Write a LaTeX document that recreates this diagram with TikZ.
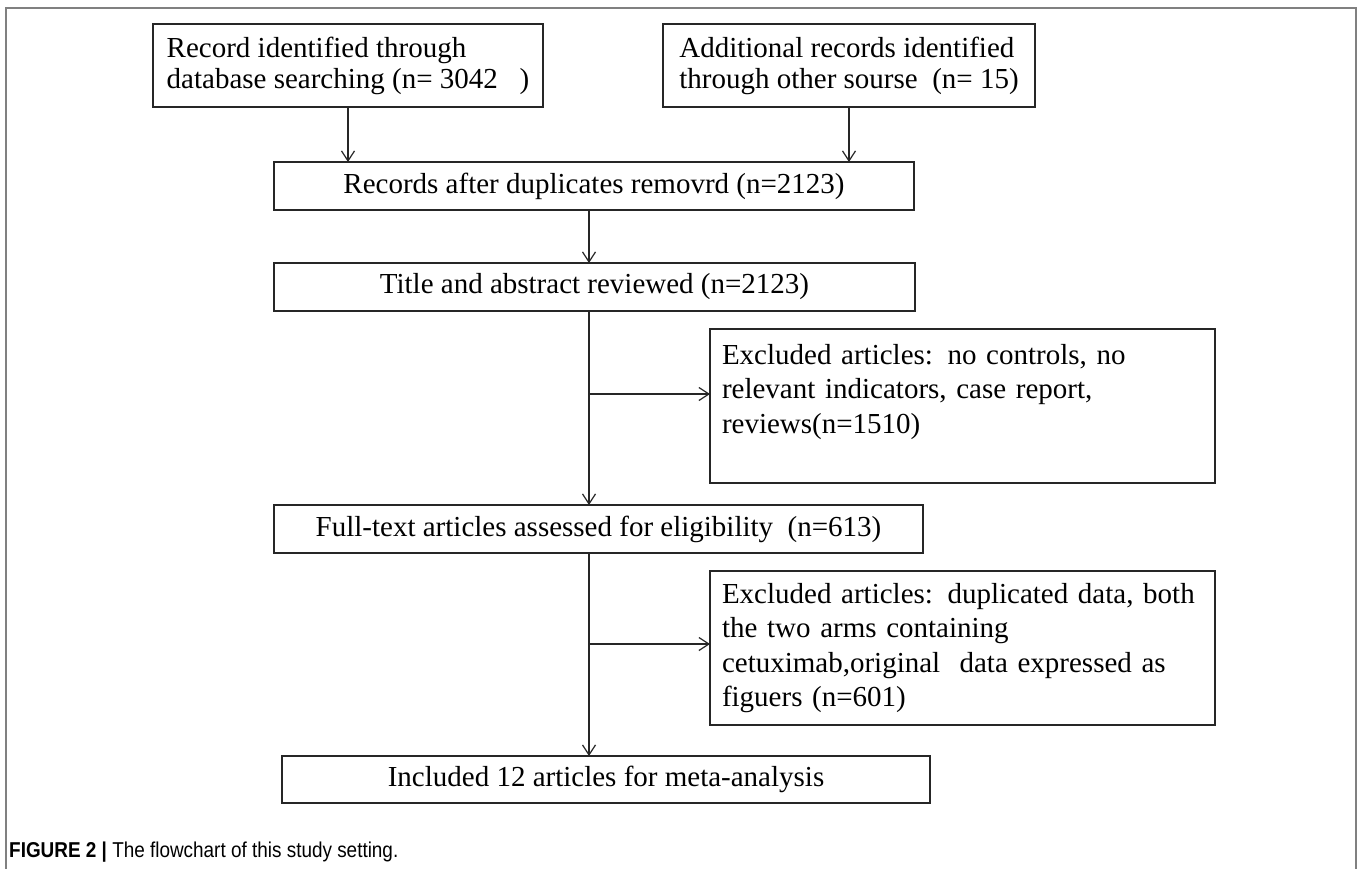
\documentclass[tikz,border=0pt]{standalone}
\usepackage{fontspec}
\setmainfont{Liberation Serif}
\setsansfont{Liberation Sans}
\newfontfamily\capfont[FakeStretch=0.88]{Liberation Sans}
\usetikzlibrary{arrows.meta}
\tikzset{
  box/.style={draw=black!85, line width=1.5pt, inner sep=0pt, outer sep=0pt, anchor=north west, font=\fontsize{29}{31}\selectfont},
  cbox/.style={box, align=center},
  lbox/.style={box, align=left},
  xbox/.style={box, align=left, text width=481pt, inner xsep=12pt, font=\fontsize{29}{34.5}\selectfont},
  arr/.style={line width=1.2pt, draw=black!85, -{Straight Barb[length=10pt,width=13pt,line width=1.2pt]}},
  frame/.style={draw=black!50, line width=2.2pt},
  captext/.style={anchor=base west, inner sep=0pt, font=\capfont\fontsize{21.5}{24}\selectfont}
}
\begin{document}
\begin{tikzpicture}[x=1pt,y=-1pt]
\useasboundingbox (0,0) rectangle (1358,868);
\fill[white] (0,0) rectangle (1358,868);
\draw[frame] (6,880) -- (6,8) -- (1356,8) -- (1356,880);

\node[lbox, minimum width=390pt, minimum height=83pt] (a) at (153,24)
  {Record identified through\\database searching\ (n= 3042\ \ \ )};
\node[lbox, minimum width=372pt, minimum height=83pt] (b) at (663,24)
  {Additional records identified\\through other sourse\ \ (n= 15)};
\node[cbox, minimum width=640pt, minimum height=48pt] (c) at (274,162)
  {Records after duplicates removrd (n=2123)};
\node[cbox, minimum width=641pt, minimum height=48pt] (d) at (274,263)
  {Title and abstract reviewed (n=2123)};
\node[xbox, minimum width=505pt, minimum height=154pt] (x1) at (710,329)
  {Excluded articles: no controls, no\\relevant indicators, case report,\\reviews(n=1510)\\\mbox{}};
\node[cbox, minimum width=649pt, minimum height=48pt] (e) at (274,505)
  {Full-text articles assessed for eligibility\ \ (n=613)};
\node[xbox, minimum width=505pt, minimum height=154pt] (x2) at (710,571)
  {Excluded articles: duplicated data, both\\the two arms containing\\cetuximab,original\ \ data expressed as\\figuers (n=601)};
\node[cbox, minimum width=648pt, minimum height=47pt] (f) at (282,756)
  {Included 12 articles for meta-analysis};

\coordinate (spine) at (589,0);
\coordinate (br1) at (589,394);
\coordinate (br2) at (589,644);

\draw[arr] (a.south) -- (a.south |- c.north);
\draw[arr] (b.south) -- (b.south |- c.north);
\draw[arr] (c.south -| spine) -- (d.north -| spine);
\draw[arr] (d.south -| spine) -- (e.north -| spine);
\draw[arr] (br1) -- (br1 -| x1.west);
\draw[arr] (e.south -| spine) -- (f.north -| spine);
\draw[arr] (br2) -- (br2 -| x2.west);

\node[captext] (cap) at (9,857) {\textbf{FIGURE 2 |} The flowchart of this study setting.};
\end{tikzpicture}
\end{document}
